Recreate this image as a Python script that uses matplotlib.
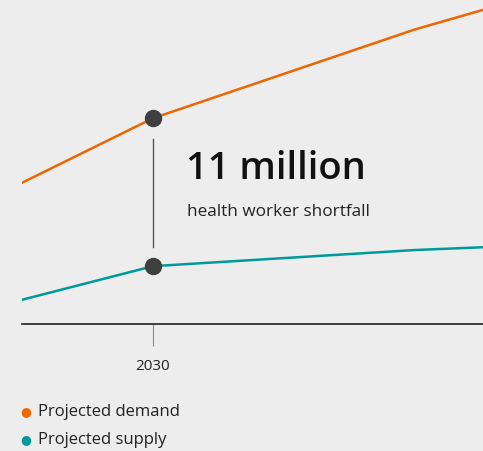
import matplotlib.pyplot as plt

plt.rcParams['font.family'] = ['Open Sans', 'DejaVu Sans']

# projected health workforce, millions (relative to chart baseline)
years = [2020, 2030, 2050, 2060]
demand = [10.5, 15.3, 21.9, 24.7]
supply = [1.8, 4.3, 5.5, 5.9]
highlight_year = 2030
gap_label = "11 million"
gap_sub = "health worker shortfall"
legend_labels = ["Projected demand", "Projected supply"]

orange = "#ec6602"
teal = "#009999"
bg = "#ededed"

fig = plt.figure(figsize=(4.83, 4.51), dpi=100, facecolor=bg)
ax = fig.add_axes([22 / 483, 127 / 451, 461 / 483, 324 / 451])
ax.set_facecolor(bg)

ax.plot(years, demand, color=orange, lw=1.8, zorder=2)
ax.plot(years, supply, color=teal, lw=1.8, zorder=2)

i = years.index(highlight_year)
ax.plot([highlight_year] * 2, [demand[i], supply[i]], 'o', ms=11.5,
        color="#3f3f3f", zorder=3)
ax.plot([highlight_year] * 2, [demand[i] - 1.55, supply[i] + 1.45],
        color="#555555", lw=1, zorder=1)

ax.set_xlim(2020, 2055.2)
ax.set_ylim(0, 24.09)
for s in ['top', 'right', 'left']:
    ax.spines[s].set_visible(False)
ax.spines['bottom'].set_color("#222222")
ax.spines['bottom'].set_linewidth(1.2)
ax.set_yticks([])
ax.set_xticks([highlight_year])
ax.set_xticklabels([str(highlight_year)], fontsize=11, color="#222222")
ax.tick_params(axis='x', length=16, width=0.8, color="#888888", pad=9)

ax.text(2032.5, 11.5, gap_label, fontsize=27.5, fontweight='semibold',
        color="#111111", va='center', ha='left')
ax.text(2032.6, 8.3, gap_sub, fontsize=12.3, color="#222222",
        va='center', ha='left')

# legend
for k, (lab, col) in enumerate(zip(legend_labels, [orange, teal])):
    y = 1 - (412 + 28 * k) / 451
    fig.text(26 / 483, y, "●", color=col, fontsize=9, ha='center',
             va='center', family='DejaVu Sans')
    fig.text(38 / 483, y, lab, color="#222222", fontsize=12,
             ha='left', va='center')

fig.savefig("out.png", dpi=100, facecolor=bg)
